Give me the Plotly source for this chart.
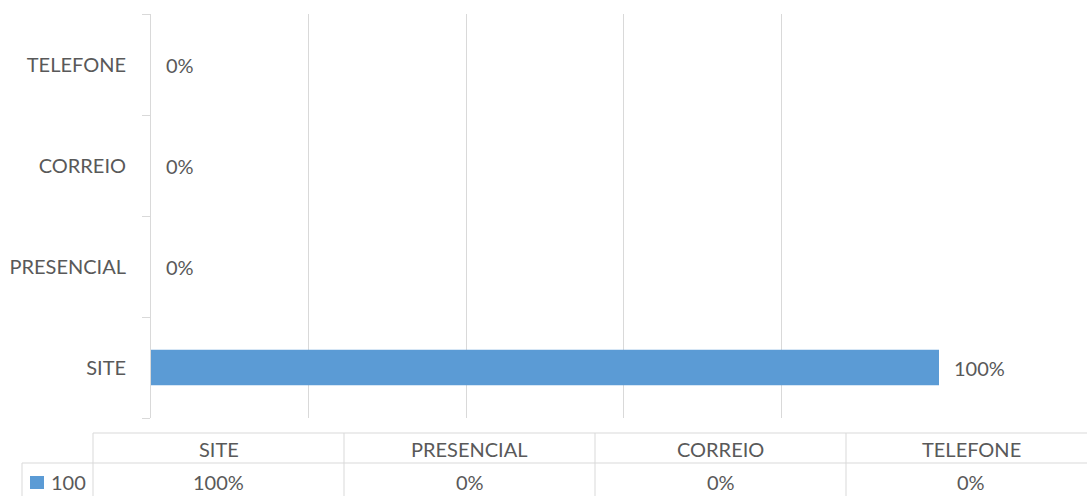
import plotly.graph_objects as go

categories = ["SITE", "PRESENCIAL", "CORREIO", "TELEFONE"]
values = [100, 0, 0, 0]
series_name = "100"
x_ticks = [0, 20, 40, 60, 80, 100]

W, H = 1087, 496
PL, PR, PT, PB = 151, 939, 14, 418  # plot area pixel bounds

def px_x(p):
    return (p - PL) / (PR - PL)

def px_y(p):
    return (PB - p) / (PB - PT)

FONT = "Lato, sans-serif"
FS = 20
TXT = "#595959"
GRID = "#D9D9D9"
BAR = "#5B9BD5"

fig = go.Figure()
fig.add_trace(go.Bar(
    y=categories, x=values, orientation="h", name=series_name,
    marker=dict(color=BAR, line=dict(width=0)), width=0.35,
    hoverinfo="skip",
))

annotations = []
for c, v in zip(categories, values):
    annotations.append(dict(
        x=v, y=c, xref="x", yref="y", text=f"{v}%", showarrow=False,
        xanchor="left", yanchor="middle", xshift=13,
        font=dict(family=FONT, size=FS, color=TXT),
    ))

# data table
shapes = []
col_left, col_w = 93, 251
hdr_top, row_sep, bottom = 433, 463, 500
key_left = 22
n = len(categories)
right_end = col_left + col_w * n
line = dict(color=GRID, width=1)
shapes.append(dict(type="line", xref="paper", yref="paper",
                   x0=px_x(col_left), x1=px_x(right_end), y0=px_y(hdr_top), y1=px_y(hdr_top), line=line))
shapes.append(dict(type="line", xref="paper", yref="paper",
                   x0=px_x(key_left), x1=px_x(right_end), y0=px_y(row_sep), y1=px_y(row_sep), line=line))
shapes.append(dict(type="line", xref="paper", yref="paper",
                   x0=px_x(key_left), x1=px_x(key_left), y0=px_y(row_sep), y1=px_y(bottom), line=line))
for i in range(n + 1):
    xx = col_left + col_w * i
    shapes.append(dict(type="line", xref="paper", yref="paper",
                       x0=px_x(xx), x1=px_x(xx), y0=px_y(hdr_top), y1=px_y(bottom), line=line))
for i, (c, v) in enumerate(zip(categories, values)):
    cx = col_left + col_w * i + col_w / 2
    annotations.append(dict(x=px_x(cx), y=px_y(449), xref="paper", yref="paper",
                            text=c, showarrow=False, xanchor="center", yanchor="middle",
                            font=dict(family=FONT, size=FS, color=TXT)))
    annotations.append(dict(x=px_x(cx), y=px_y(482), xref="paper", yref="paper",
                            text=f"{v}%", showarrow=False, xanchor="center", yanchor="middle",
                            font=dict(family=FONT, size=FS, color=TXT)))
# legend key
shapes.append(dict(type="rect", xref="paper", yref="paper",
                   x0=px_x(30), x1=px_x(44), y0=px_y(476), y1=px_y(489),
                   fillcolor=BAR, line=dict(width=0)))
annotations.append(dict(x=px_x(49), y=px_y(482), xref="paper", yref="paper",
                        text=series_name, showarrow=False, xanchor="left", yanchor="middle",
                        font=dict(family=FONT, size=FS, color=TXT)))

fig.update_layout(
    width=W, height=H, autosize=False,
    margin=dict(l=PL, r=W - PR, t=PT, b=H - PB, pad=0),
    paper_bgcolor="white", plot_bgcolor="white",
    showlegend=False,
    font=dict(family=FONT, size=FS, color=TXT),
    xaxis=dict(range=[0, 100], tickvals=x_ticks, showgrid=True, gridcolor=GRID, gridwidth=1,
               showticklabels=False, zeroline=False, showline=False, ticks="", automargin=False),
    yaxis=dict(type="category", categoryorder="array", categoryarray=categories,
               tickson="boundaries", ticks="outside", ticklen=8, tickcolor=GRID, tickwidth=1,
               showline=True, linecolor=GRID, linewidth=1, showgrid=False, automargin=False,
               ticklabelstandoff=20, tickfont=dict(family=FONT, size=FS, color=TXT)),
    shapes=shapes, annotations=annotations,
)

fig.write_html("out.html", config={"displayModeBar": False},
               post_script="document.body.style.margin='0px';document.body.style.overflow='hidden';")
